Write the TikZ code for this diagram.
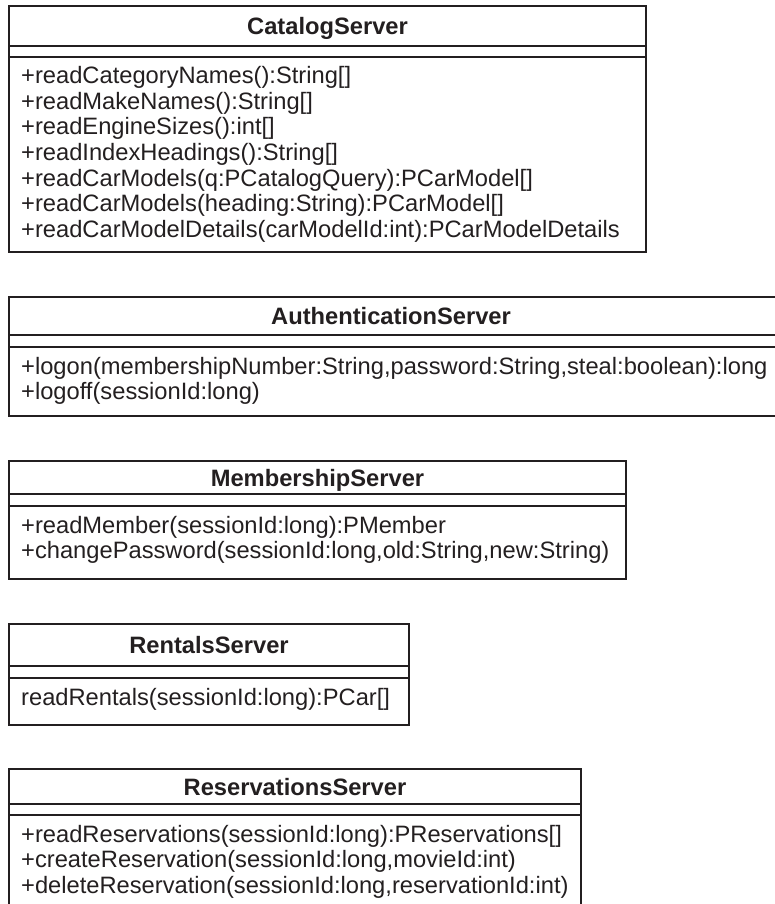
\documentclass[tikz,border=0pt]{standalone}
\usepackage{fontspec}
\setmainfont{Liberation Sans}
\definecolor{ink}{RGB}{35,31,32}
\begin{document}
\begin{tikzpicture}[x=1pt,y=-1pt,
  boxline/.style={draw=ink, line width=1.7pt},
  title/.style={font=\fontsize{23.7}{25.2}\selectfont\bfseries, text=ink, inner sep=0pt, anchor=base},
  op/.style={font=\fontsize{23.7}{25.2}\selectfont, text=ink, inner sep=0pt, anchor=base west}]
\useasboundingbox (0,0) rectangle (775,904);
\clip (0,0) rectangle (775,904);

% CatalogServer
\draw[boxline] (9,6) rectangle (646,252);
\draw[boxline] (9,46) -- (646,46);
\draw[boxline] (9,57) -- (646,57);
\node[title] (catT) at (327.5,34.5) {CatalogServer};
\node[op] (cat1) at (21,84) {+readCategoryNames():String[]};
\node[op] (cat2) at (21,109.5) {+readMakeNames():String[]};
\node[op] (cat3) at (21,135) {+readEngineSizes():int[]};
\node[op] (cat4) at (21,160.5) {+readIndexHeadings():String[]};
\node[op] (cat5) at (21,186) {+readCarModels(q:PCatalogQuery):PCarModel[]};
\node[op] (cat6) at (21,211.5) {+readCarModels(heading:String):PCarModel[]};
\node[op] (cat7) at (21,237) {+readCarModelDetails(carModelId:int):PCarModelDetails};

% AuthenticationServer
\draw[boxline] (9,297) rectangle (790,416);
\draw[boxline] (9,335) -- (790,335);
\draw[boxline] (9,347) -- (790,347);
\node[title] (authT) at (391,324.5) {AuthenticationServer};
\node[op] (auth1) at (21,374) {+logon(membershipNumber:String,password:String,steal:boolean):long};
\node[op] (auth2) at (21,399.5) {+logoff(sessionId:long)};

% MembershipServer
\draw[boxline] (9,461) rectangle (626,579);
\draw[boxline] (9,494) -- (626,494);
\draw[boxline] (9,506) -- (626,506);
\node[title] (memT) at (317.5,486) {MembershipServer};
\node[op] (mem1) at (21,533) {+readMember(sessionId:long):PMember};
\node[op] (mem2) at (21,558.5) {+changePassword(sessionId:long,old:String,new:String)};

% RentalsServer
\draw[boxline] (9,624) rectangle (409,725);
\draw[boxline] (9,666) -- (409,666);
\draw[boxline] (9,678) -- (409,678);
\node[title] (renT) at (209,653.5) {RentalsServer};
\node[op] (ren1) at (21,705) {readRentals(sessionId:long):PCar[]};

% ReservationsServer
\draw[boxline] (9,769) rectangle (581,930);
\draw[boxline] (9,804) -- (581,804);
\draw[boxline] (9,815) -- (581,815);
\node[title] (resT) at (295,795) {ReservationsServer};
\node[op] (res1) at (21,842) {+readReservations(sessionId:long):PReservations[]};
\node[op] (res2) at (21,867.5) {+createReservation(sessionId:long,movieId:int)};
\node[op] (res3) at (21,893) {+deleteReservation(sessionId:long,reservationId:int)};
\end{tikzpicture}
\end{document}
